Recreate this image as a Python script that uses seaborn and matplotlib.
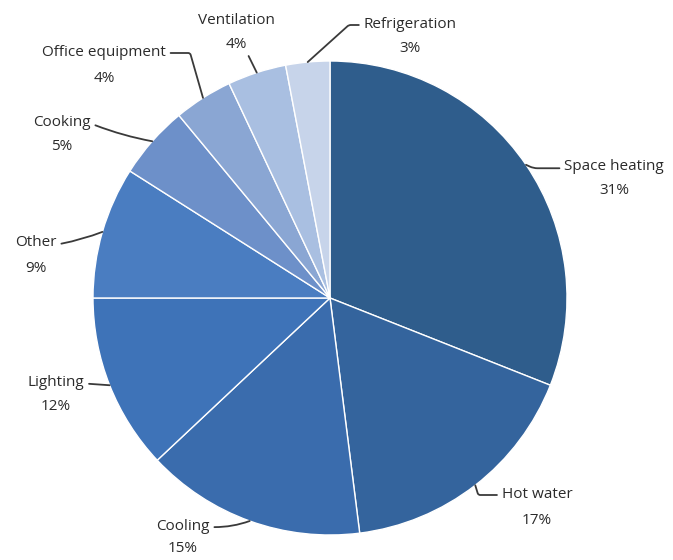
import numpy as np
import matplotlib
matplotlib.use("Agg")
import matplotlib.pyplot as plt
import seaborn as sns

categories = ["Space heating", "Hot water", "Cooling", "Lighting", "Other",
              "Cooking", "Office equipment", "Ventilation", "Refrigeration"]
shares = [31, 17, 15, 12, 9, 5, 4, 4, 3]
colors = ["#2f5d8c", "#34649d", "#3a6cad", "#3e73b8", "#4a7dc1",
          "#6d90c9", "#8aa6d3", "#a9bfe1", "#c7d4ea"]

sns.set_theme(style="white")
plt.rcParams["font.family"] = ["Open Sans", "DejaVu Sans"]

W, H = 673, 560
cx, cy, R = 330, 298, 237   # pie centre / radius in pixels


def px(x, y):
    # pixel position -> data units of the pie (radius 1)
    return (x - cx) / R, (cy - y) / R


# label layout: text centre x, y of name line, y of percent line,
# which line the leader leaves from, where on that text, connection style
label_pos = {
    "Space heating": (614, 166, 191, "name", (0.0, 0.35), "angle,angleA=0,angleB=-25,rad=4"),
    "Hot water": (537, 495, 520, "name", (0.0, 0.5), "angle,angleA=0,angleB=-73,rad=2"),
    "Cooling": (183, 527, 549, "name", (1.0, 0.5), "arc3,rad=0.1"),
    "Lighting": (56, 382, 407, "name", (1.0, 0.4), "arc3"),
    "Other": (36, 243, 268, "name", (1.0, 0.4), "arc3,rad=0.05"),
    "Cooking": (62, 122, 146, "name", (1.0, 0.4), "arc3,rad=0.05"),
    "Office equipment": (104, 53, 78, "name", (1.0, 0.5), "angle,angleA=0,angleB=106,rad=2"),
    "Ventilation": (236, 21, 44, "pct", (0.95, 0.1), "arc3"),
    "Refrigeration": (410, 25, 48, "name", (0.0, 0.5), "angle,angleA=0,angleB=42,rad=2"),
}

fig = plt.figure(figsize=(W / 100, H / 100), dpi=100)
ax = fig.add_axes([0, 0, 1, 1])

wedges, _ = ax.pie(shares, colors=colors, startangle=90, counterclock=False,
                   radius=1, wedgeprops=dict(edgecolor="white", linewidth=1.0))

ax.set_xlim(-cx / R, (W - cx) / R)
ax.set_ylim(-(H - cy) / R, cy / R)
ax.set_aspect("auto")
ax.axis("off")

txt = dict(ha="center", va="center", fontsize=11, color="#2b2b2b")
arrow = dict(arrowstyle="-", color="#3a3a3a", lw=1.3, shrinkA=1, shrinkB=0)

for w, name, val in zip(wedges, categories, shares):
    mid = np.deg2rad((w.theta1 + w.theta2) / 2)
    edge = (np.cos(mid), np.sin(mid))
    tx, y1, y2, side, rel, conn = label_pos[name]
    if side == "name":
        ax.annotate(name, xy=edge, xytext=px(tx, y1), **txt,
                    arrowprops=dict(arrow, relpos=rel, connectionstyle=conn))
        ax.text(*px(tx, y2), f"{val}%", **txt)
    else:
        ax.text(*px(tx, y1), name, **txt)
        ax.annotate(f"{val}%", xy=edge, xytext=px(tx, y2), **txt,
                    arrowprops=dict(arrow, relpos=rel, connectionstyle=conn))

fig.savefig("out.png", dpi=100, facecolor="white")
